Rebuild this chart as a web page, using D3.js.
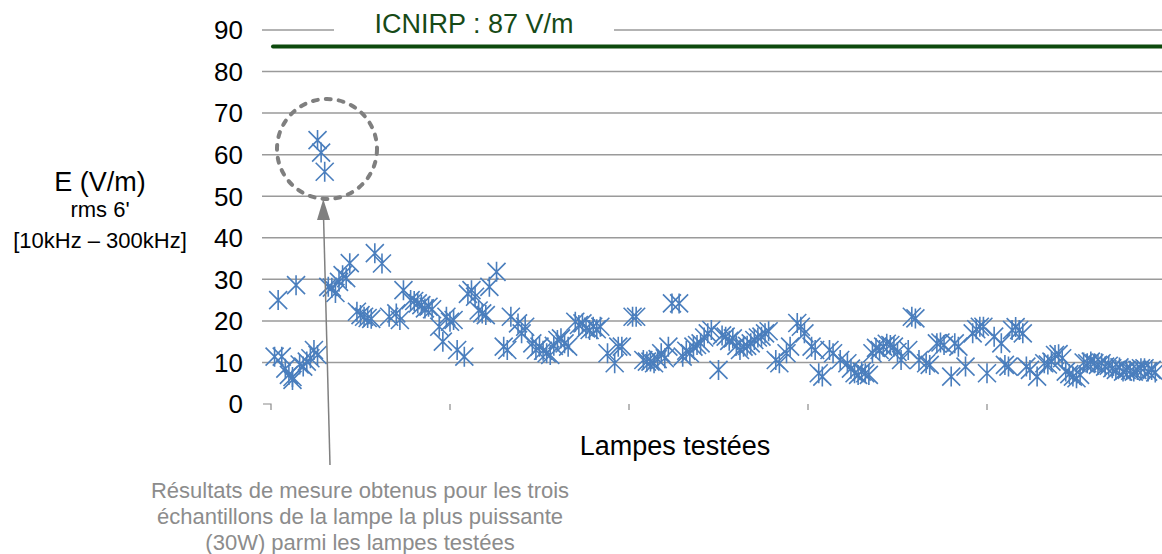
<!DOCTYPE html>
<html><head><meta charset="utf-8">
<script src="https://cdn.jsdelivr.net/npm/d3@7"></script>
<style>body{margin:0;background:#fff}svg{display:block}</style>
</head><body>
<script>
const lampIndex = [1,2,3,5,6,7,9,10,12,13,13,14,15,16,18,19,21,22,24,25,27,29,31,33,35,36,37,39,41,42,44,47,48,49,50,51,52,54,56,57,59,60,61,63,65,66,67,69,70,71,73,75,77,78,80,82,83,85,87,89,90,92,94,96,97,98,101,102,104,105,106,107,109,111,112,114,115,117,118,120,122,123,125,127,129,131,132,134,135,137,138,141,142,144,145,148,149,151,152,153,154,156,157,159,161,163,164,166,168,170,171,173,174,176,178,179,180,181,183,184,186,188,190,191,192,194,196,198,199,200,202,204,205,206,207,209,211,212,214,216,218,219,221,222,224,225,226,228,229,231,232,233,235,236,238,239,241,243,245,246,
  4,6,8,11,17,20,26,28,40,43,45,55,58,74,76,79,81,86,88,91,108,110,116,119,121,126,128,130,133,136,139,147,162,165,167,169,172,175,187,197,208,210,217,220,223,227,230,234,237,240,242,244,247];
const fieldValues = [11.4,25,11.4,7,5.8,28.6,9,10.2,13,11.8,63.5,60.5,55.9,28.2,26.7,29.4,30.3,33.9,22.2,21.4,20.7,36.3,33.8,21,21.8,20.2,27.4,25,24.2,23.8,23.4,18.6,15,21,19.8,20.2,13,11.4,27.4,25.8,21.8,21.4,28.2,31.8,13.8,13,21,19.4,17,18.6,14.6,13.8,12.2,11.8,15.4,14.6,13.8,19.8,19.4,17.8,18.6,18.6,12.2,9.8,13.8,13.8,21,21,10.6,10.2,10.2,9.8,12.2,13.8,24.2,24.2,11.4,12.2,13.8,14.6,17,17.8,8.2,16.2,15.8,13,13.8,14.6,15.4,16.2,17,10.6,9.8,12.2,13.8,18.6,17,13.8,13,7.4,6.6,13,12.2,10.6,9.8,7.4,7,7.4,12.2,13,13.8,14.2,13.8,10.6,13,21,20.6,10.6,9.8,9.4,14.6,14.2,6.6,14.6,13.8,9,17,18.6,18.6,7.4,16.2,14.6,9.4,9,17.8,17.8,9,8.2,6.6,9.8,10.2,11.8,11,7.8,6.6,6.2,7,9.8,10.2,9.4,9.8,9,8.6,8.2,7.8,8.2,7.8,8.6,7.8,8.2,
  8.5,6.5,9.5,11,28,31,21,20.5,24.8,23,22.8,26.5,22.5,13,12.8,14,15.8,19,18.2,18,10.8,11,12.8,14.2,16,16.5,15.2,14,14,16,17.5,19.5,8.5,7.8,7,13.5,14.5,12.5,14.8,18,18.5,17,9.5,12,7.2,10,9.8,9.2,8.8,8,8.2,8.6,7.6];
const yTicks = [0,10,20,30,40,50,60,70,80,90];
const xTicks = [0,50,100,150,200];
const limitLabel = "ICNIRP : 87 V/m";
const limitLineValue = 86;
const yTitle = ["E (V/m)", "rms 6'", "[10kHz – 300kHz]"];
const xTitle = "Lampes testées";
const noteLines = ["Résultats de mesure obtenus pour les trois", "échantillons de la lampe la plus puissante", "(30W) parmi les lampes testées"];

const W = 1162, H = 554;
const svg = d3.select("body").append("svg").attr("width", W).attr("height", H);
const x = d3.scaleLinear().domain([0, 250]).range([271, 1166]);
const y = d3.scaleLinear().domain([0, 90]).range([404, 30]);
const font = "'Liberation Sans', Arial, sans-serif";

// gridlines
const grid = svg.append("g");
yTicks.filter(d => d > 0).forEach(d => {
  if (d === 90) {
    grid.append("line").attr("x1", 262).attr("x2", 334).attr("y1", y(d)).attr("y2", y(d));
    grid.append("line").attr("x1", 614).attr("x2", W).attr("y1", y(d)).attr("y2", y(d));
  } else {
    grid.append("line").attr("x1", 262).attr("x2", W).attr("y1", y(d)).attr("y2", y(d));
  }
});
grid.selectAll("line").attr("stroke", "#9a9a9a").attr("stroke-width", 1.5);

// y tick labels
svg.append("g").selectAll("text").data(yTicks).join("text")
  .attr("x", 243).attr("y", d => y(d)).attr("dy", "0.36em")
  .attr("text-anchor", "end").attr("font-family", font).attr("font-size", 26).attr("fill", "#000")
  .text(d => d);

// x axis ticks
const xt = svg.append("g").attr("stroke", "#8a8a8a").attr("stroke-width", 1.2).attr("fill", "none");
xt.append("path").attr("d", `M263,${y(0)}H${x(0)}V${y(0)+6}`);
xTicks.filter(d => d > 0).forEach(d => {
  xt.append("line").attr("x1", x(d)).attr("x2", x(d)).attr("y1", y(0)).attr("y2", y(0)+6);
});

// ICNIRP line
svg.append("line").attr("x1", 273).attr("x2", W).attr("y1", y(limitLineValue)).attr("y2", y(limitLineValue))
  .attr("stroke", "#0d4a0d").attr("stroke-width", 4).attr("stroke-linecap", "round");
svg.append("text").attr("x", 474).attr("y", 33).attr("text-anchor", "middle")
  .attr("font-family", font).attr("font-size", 27).attr("fill", "#174a17").text(limitLabel);

// markers
const s = 9;
const mk = svg.append("g").attr("stroke", "#4a7ebd").attr("stroke-width", 1.6);
lampIndex.forEach((xi, i) => {
  const cx = x(xi), cy = y(fieldValues[i]);
  mk.append("path").attr("d", `M${cx-s},${cy-s}L${cx+s},${cy+s}M${cx-s},${cy+s}L${cx+s},${cy-s}M${cx},${cy-s-1}V${cy+s+1}`);
});

// dashed circle
svg.append("circle").attr("cx", 327).attr("cy", 149).attr("r", 50)
  .attr("fill", "none").attr("stroke", "#7f7f7f").attr("stroke-width", 4)
  .attr("stroke-dasharray", "5,8").attr("stroke-linecap", "round");

// arrow
svg.append("line").attr("x1", 330).attr("y1", 465).attr("x2", 323.5).attr("y2", 215)
  .attr("stroke", "#808080").attr("stroke-width", 1.5);
svg.append("path").attr("d", "M323.3,199L317,220L330,220Z").attr("fill", "#808080");

// titles
const yt = svg.append("g").attr("font-family", font).attr("text-anchor", "middle").attr("fill", "#000");
yt.append("text").attr("x", 100).attr("y", 191).attr("font-size", 27).text(yTitle[0]);
yt.append("text").attr("x", 100).attr("y", 217).attr("font-size", 22).text(yTitle[1]);
yt.append("text").attr("x", 100).attr("y", 248).attr("font-size", 22).text(yTitle[2]);

svg.append("text").attr("x", 675).attr("y", 455).attr("text-anchor", "middle")
  .attr("font-family", font).attr("font-size", 27).attr("fill", "#000").text(xTitle);

svg.append("g").selectAll("text").data(noteLines).join("text")
  .attr("x", 360).attr("y", (d, i) => 498 + i * 26).attr("text-anchor", "middle")
  .attr("font-family", font).attr("font-size", 22).attr("fill", "#8c8c8c").text(d => d);
</script>
</body></html>
